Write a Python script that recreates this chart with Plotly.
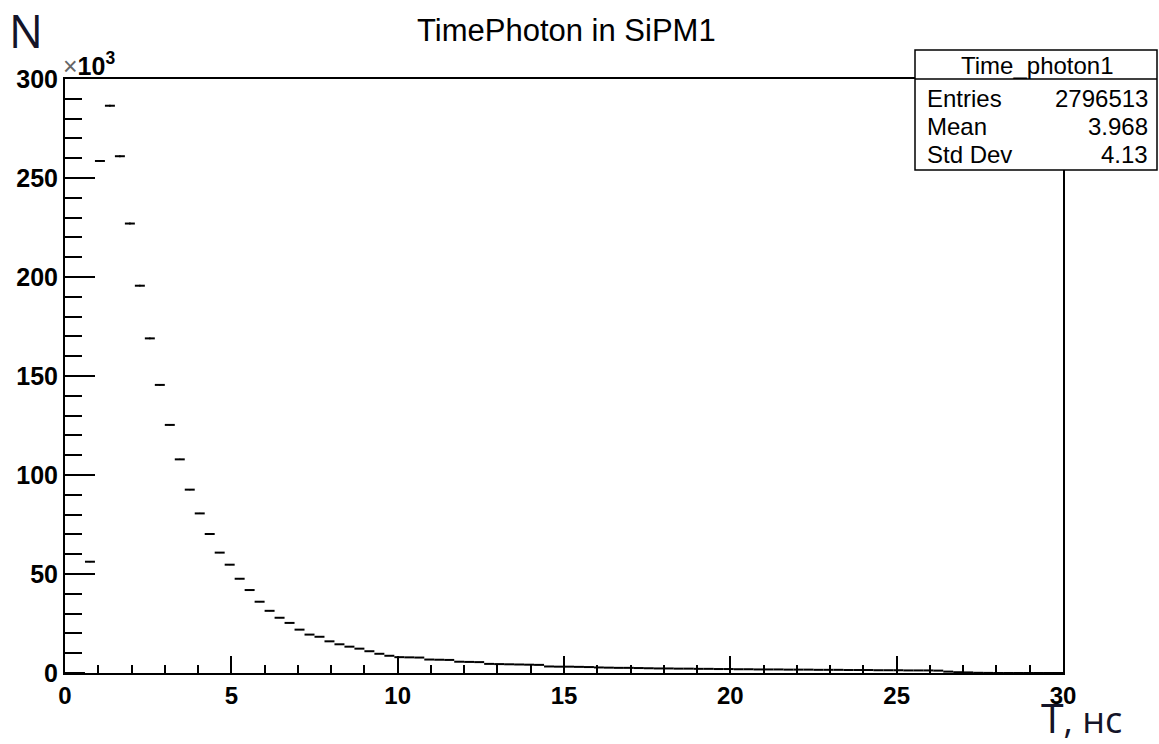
import plotly.graph_objects as go

# ---- data (histogram Time_photon1, 100 bins over 0..30 ns, contents in thousands) ----
bin_low = 0.0
bin_width = 0.3
counts_k = [
    0.0, 0.0, 56.2, 258.6, 286.5, 261.0, 227.0, 195.6, 169.0, 145.5,
    125.3, 107.9, 92.6, 80.6, 70.2, 60.8, 54.7, 47.6, 41.9, 36.0,
    31.4, 27.9, 25.3, 21.9, 19.4, 18.3, 16.0, 14.5, 13.3, 12.3,
    11.0, 9.7, 8.7, 8.0, 7.9, 7.8, 6.8, 6.7, 6.6, 5.7,
    5.6, 5.5, 4.6, 4.5, 4.4, 4.3, 4.2, 4.1, 3.3, 3.2,
    3.2, 3.1, 3.0, 2.8, 2.7, 2.6, 2.6, 2.5, 2.4, 2.3,
    2.3, 2.2, 2.2, 2.1, 2.1, 2.0, 2.0, 1.9, 1.9, 1.8,
    1.8, 1.8, 1.7, 1.7, 1.7, 1.6, 1.6, 1.6, 1.5, 1.5,
    1.5, 1.4, 1.4, 1.4, 1.3, 1.3, 1.3, 1.2, 0.7, 0.4,
    0.3, 0.1, 0.05, 0.0, 0.0, 0.0, 0.0, 0.0, 0.0, 0.0,
]
x_ticks = [0, 5, 10, 15, 20, 25, 30]
y_ticks = [0, 50, 100, 150, 200, 250, 300]
title_text = "TimePhoton in SiPM1"
stats_name = "Time_photon1"
stats_rows = [("Entries", "2796513"), ("Mean", "3.968"), ("Std Dev", "4.13")]
x_label_main = "T"
x_label_unit = ", нс"
y_label = "N"

centers = [bin_low + bin_width * (i + 0.5) for i in range(len(counts_k))]
errs = [(c * 1000) ** 0.5 / 1000 for c in counts_k]

W, H = 1159, 744
L, R, T, B = 65, 1063, 79, 673
pw, ph = R - L, B - T


def px(x):
    return (x - L) / pw


def py(y):
    return (B - y) / ph


fig = go.Figure()
fig.add_trace(go.Scatter(
    x=centers, y=counts_k, mode="markers",
    marker=dict(size=1, color="black", opacity=0),
    error_x=dict(type="constant", value=bin_width / 2, color="black", thickness=2, width=0),
    error_y=dict(type="data", array=errs, color="black", thickness=1.5, width=0),
    showlegend=False, hoverinfo="skip",
))

font_main = "Liberation Sans, Arial, sans-serif"

fig.update_layout(
    width=W, height=H,
    margin=dict(l=L, r=W - R, t=T, b=H - B, pad=0),
    plot_bgcolor="white", paper_bgcolor="white",
    xaxis=dict(
        range=[0, 30], tickvals=x_ticks, ticks="inside", ticklen=17, tickwidth=2,
        tickcolor="black", showline=True, linecolor="black", linewidth=2, mirror=True,
        showgrid=False, zeroline=False,
        tickfont=dict(family=font_main, size=24, color="black", weight="bold"),
        minor=dict(dtick=1, ticks="inside", ticklen=8, tickwidth=2, tickcolor="black", showgrid=False),
    ),
    yaxis=dict(
        range=[0, 300], tickvals=y_ticks, ticks="inside", ticklen=30, tickwidth=2,
        tickcolor="black", showline=True, linecolor="black", linewidth=2, mirror=True,
        showgrid=False, zeroline=False,
        tickfont=dict(family=font_main, size=25, color="black", weight="bold"),
        minor=dict(dtick=10, ticks="inside", ticklen=17, tickwidth=2, tickcolor="black", showgrid=False),
    ),
)

ann = []
ann.append(dict(x=px(566), y=py(31), xref="paper", yref="paper", text=title_text,
                showarrow=False, xanchor="center", yanchor="middle",
                font=dict(family=font_main, size=31, color="black")))
ann.append(dict(x=px(7), y=py(30), xref="paper", yref="paper", text=y_label,
                showarrow=False, xanchor="left", yanchor="middle",
                font=dict(family="Open Sans, sans-serif", size=45, color="#141428")))
ann.append(dict(x=px(1039), y=py(717), xref="paper", yref="paper",
                text=x_label_main + "<span style='font-size:36px'>" + x_label_unit + "</span>",
                showarrow=False, xanchor="left", yanchor="middle",
                font=dict(family="Open Sans, sans-serif", size=41, color="#141428")))
ann.append(dict(x=px(61), y=py(64), xref="paper", yref="paper",
                text="<span style='color:#666'>×</span><b>10<sup>3</sup></b>",
                showarrow=False, xanchor="left", yanchor="middle",
                font=dict(family=font_main, size=25, color="black")))

# stats box
bx0, bx1, by0, by1, bsep = 915, 1157, 50, 170, 79
shapes = [
    dict(type="rect", xref="paper", yref="paper", x0=px(bx0), x1=px(bx1), y0=py(by1), y1=py(by0),
         line=dict(color="black", width=1.5), fillcolor="white", layer="above"),
    dict(type="line", xref="paper", yref="paper", x0=px(bx0), x1=px(bx1), y0=py(bsep), y1=py(bsep),
         line=dict(color="black", width=1.5), layer="above"),
]
ann.append(dict(x=px(1037), y=py(65), xref="paper", yref="paper", text=stats_name,
                showarrow=False, xanchor="center", yanchor="middle",
                font=dict(family=font_main, size=24, color="black")))
row_y = [98, 126, 154]
for (k, v), yy in zip(stats_rows, row_y):
    ann.append(dict(x=px(925), y=py(yy), xref="paper", yref="paper", text=k,
                    showarrow=False, xanchor="left", yanchor="middle",
                    font=dict(family=font_main, size=24, color="black")))
    ann.append(dict(x=px(1150), y=py(yy), xref="paper", yref="paper", text=v,
                    showarrow=False, xanchor="right", yanchor="middle",
                    font=dict(family=font_main, size=24, color="black")))

fig.update_layout(annotations=ann, shapes=shapes)
fig.write_html("out.html")
